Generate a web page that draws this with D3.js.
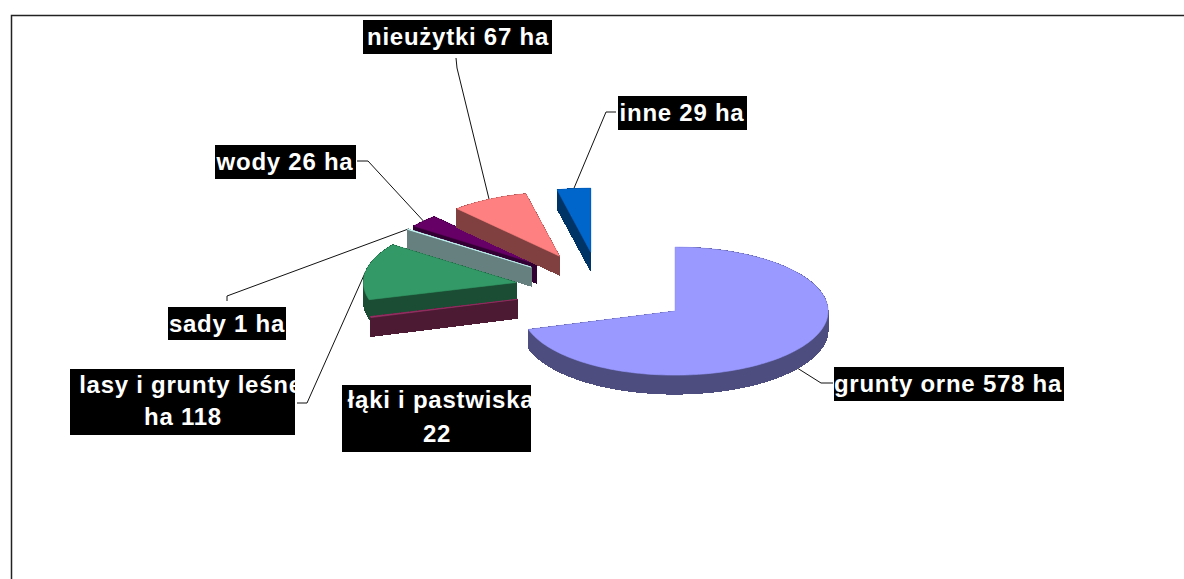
<!DOCTYPE html>
<html>

<head>
	<meta charset="utf-8">
	<title>Użytki gruntowe</title>
	<script src="https://cdn.jsdelivr.net/npm/d3@7/dist/d3.min.js"></script>
	<style>
		body { margin: 0; background: white; }
		svg { display: block; }
		text { font-family: "Liberation Sans", Arial, sans-serif; font-weight: bold; font-size: 24px; letter-spacing: 0.75px; fill: white; }
	</style>
</head>

<body>
	<svg id="chart" width="1184" height="579"></svg>

	<script>
		var categories = ['grunty orne', 'łąki i pastwiska', 'lasy i grunty leśne', 'sady', 'wody', 'nieużytki', 'inne'];
		// łąki is labelled 22 but its slice is only about 1 degree wide in the picture, so it is drawn as 2.2
		var sliceValues = [578, 2.2, 118, 1, 26, 67, 29];
		var labelLines = [
			['grunty orne 578 ha'],
			['łąki i pastwiska', '22'],
			['lasy i grunty leśne', 'ha 118'],
			['sady 1 ha'],
			['wody 26 ha'],
			['nieużytki 67 ha'],
			['inne 29 ha']
		];

		var topColors = ['#9999ff', '#993366', '#339966', '#ccffff', '#660066', '#ff8080', '#0066cc'];
		var wallColors = ['#4d4d80', '#4d1a33', '#1a4d33', '#668080', '#330033', '#804040', '#003366'];

		// label boxes [x, y, w, h], text centre x and baseline per line, leader elbow
		var boxes = [[834, 367, 230, 34], [342, 385, 189, 67], [70, 369, 225, 66], [168, 307, 118, 33], [215, 145, 141, 34], [363, 20, 189, 34], [618, 96, 129, 34]];
		var textX = [[948], [441, 437], [191, 183], [227], [285], [458], [682]];
		var baselines = [[392], [408, 442], [393, 425], [332], [170], [45], [121]];
		var elbows = [[[821, 383], [833, 383]], null, [[307, 403], [297, 403]], [[227, 296], [227, 301]], [[368, 161], [357, 161]], [[457, 68], [456, 58]], [[606, 112], [616, 112]]];

		// paint order, back to front
		var drawOrder = [6, 4, 5, 3, 2, 1, 0];

		var cx = 602, cy = 289;       // pie centre before exploding
		var explodeX = 88, explodeY = 37;
		var nudgeX = [2.5, 0, 1, 0, 0, -2, -1.5];
		var rx = 153, ry = 64;
		var depth = 19;

		var svg = d3.select('#chart');

		svg.append('path')
			.attr('d', 'M11.5,579V15.5H1184')
			.attr('fill', 'none')
			.attr('stroke', '#222')
			.attr('stroke-width', 1.5);

		var arcs = d3.pie().sort(null)(sliceValues);
		var line = d3.line();

		var slices = arcs.map((a, i) => {
			var mid = (a.startAngle + a.endAngle) / 2;
			var ox = cx + explodeX * Math.sin(mid) + nudgeX[i];
			var oy = cy - explodeY * Math.cos(mid);
			var at = t => [ox + rx * Math.sin(t), oy - ry * Math.cos(t)];

			// apex first, then along the rim
			var steps = Math.max(2, Math.ceil((a.endAngle - a.startAngle) / 0.03));
			var rim = d3.range(steps + 1).map(k => at(a.startAngle + (a.endAngle - a.startAngle) * k / steps));

			return { i: i, mid: mid, outline: [[ox, oy]].concat(rim), anchor: at(mid) };
		});

		// leader lines
		slices.forEach(s => {
			if (!elbows[s.i]) return;
			var a = s.anchor;
			if (Math.cos(s.mid) < 0) a = [a[0], a[1] + depth];
			svg.append('path')
				.attr('d', line([a].concat(elbows[s.i])))
				.attr('fill', 'none')
				.attr('stroke', '#111')
				.attr('stroke-width', 1);
		});

		// slices: walls as one path of quads, then the top face
		drawOrder.forEach(i => {
			var s = slices[i];
			var g = svg.append('g');
			var pts = s.outline;
			var walls = pts.map((p, k) => {
				var q = pts[(k + 1) % pts.length];
				var quad = [p, q, [q[0], q[1] + depth], [p[0], p[1] + depth]];
				if (d3.polygonArea(quad) < 0) quad.reverse();
				return line(quad) + 'Z';
			}).join('');
			g.append('path')
				.attr('d', walls)
				.attr('fill', wallColors[i])
				.attr('stroke', wallColors[i])
				.attr('stroke-width', 1)
				.attr('shape-rendering', 'crispEdges');
			g.append('path')
				.attr('d', line(pts) + 'Z')
				.attr('fill', topColors[i])
				.attr('stroke', topColors[i])
				.attr('stroke-width', 0.6);
		});

		// labels, text is cut off at the box edge like in the original
		var defs = svg.append('defs');
		categories.forEach((c, i) => {
			var b = boxes[i];
			defs.append('clipPath')
				.attr('id', 'clip' + i)
				.append('rect')
				.attr('x', b[0]).attr('y', b[1]).attr('width', b[2]).attr('height', b[3]);

			svg.append('rect')
				.attr('x', b[0]).attr('y', b[1]).attr('width', b[2]).attr('height', b[3])
				.attr('fill', 'black');

			var g = svg.append('g').attr('clip-path', 'url(#clip' + i + ')');
			labelLines[i].forEach((t, k) => {
				g.append('text')
					.attr('x', textX[i][k])
					.attr('y', baselines[i][k])
					.attr('text-anchor', 'middle')
					.text(t);
			});
		});
	</script>
</body>

</html>
